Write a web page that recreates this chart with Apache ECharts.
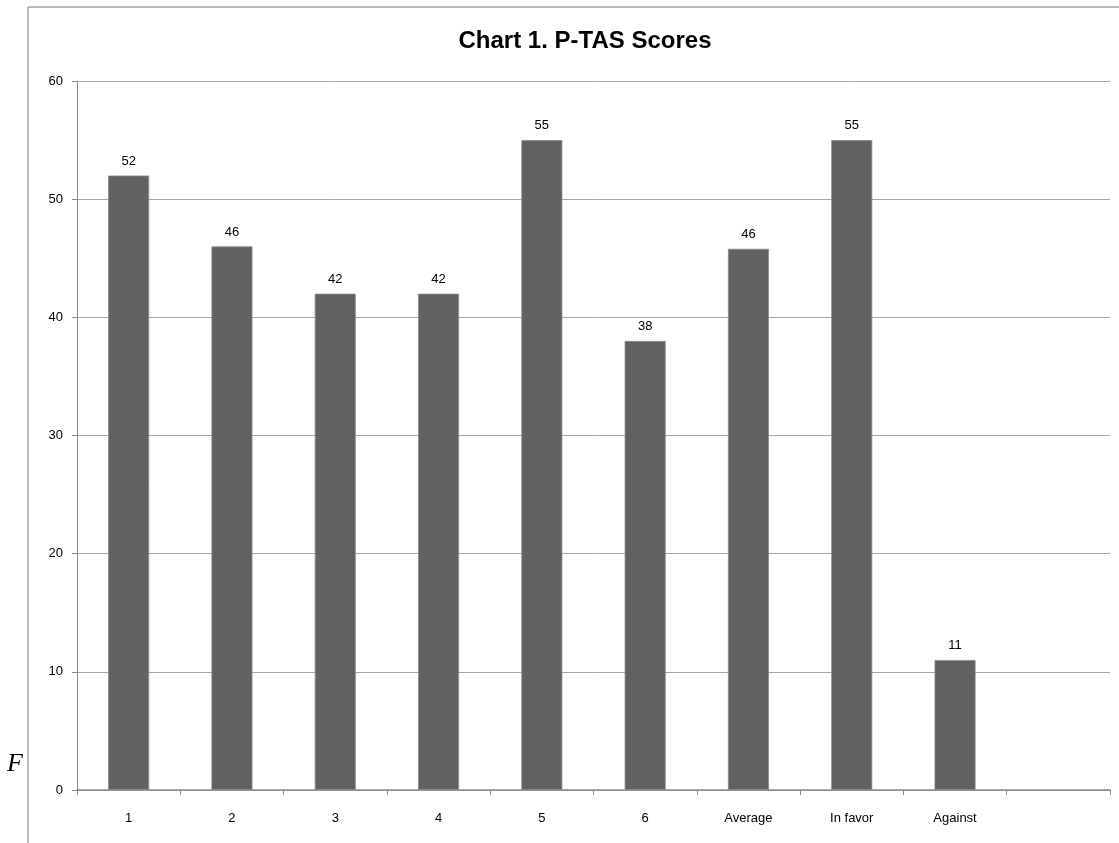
<!DOCTYPE html>
<html>
<head>
<meta charset="utf-8">
<script src="https://cdn.jsdelivr.net/npm/echarts@6/dist/echarts.min.js"></script>
<style>
html,body{margin:0;padding:0;background:#fff;}
#chart{width:1119px;height:843px;}
</style>
</head>
<body>
<div id="chart"></div>
<script>
const categories = ['1', '2', '3', '4', '5', '6', 'Average', 'In favor', 'Against', ''];
const scores = [52, 46, 42, 42, 55, 38, 45.8, 55, 11, null];
const yTicks = { min: 0, max: 60, interval: 10 };
const titleText = 'Chart 1. P-TAS Scores';

const chart = echarts.init(document.getElementById('chart'), null, { renderer: 'canvas' });
const narrow = '"Liberation Sans Narrow", "Liberation Sans", Arial, sans-serif';
chart.setOption({
  animation: false,
  backgroundColor: '#ffffff',
  title: {
    text: titleText,
    left: 580,
    top: 24,
    textAlign: 'center',
    textStyle: { fontFamily: narrow, fontWeight: 'bold', fontSize: 24, color: '#000' }
  },
  grid: { left: 77, right: 9, top: 81, bottom: 53, containLabel: false },
  xAxis: {
    type: 'category',
    data: categories,
    boundaryGap: true,
    axisLine: { lineStyle: { color: '#8c8c8c', width: 1.5 } },
    axisTick: { show: true, length: 5, alignWithLabel: false, lineStyle: { color: '#8c8c8c' } },
    axisLabel: { fontFamily: narrow, fontSize: 13, color: '#000', margin: 22, interval: 0 },
    splitLine: { show: false }
  },
  yAxis: {
    type: 'value',
    min: yTicks.min,
    max: yTicks.max,
    interval: yTicks.interval,
    axisLine: { show: true, lineStyle: { color: '#8c8c8c', width: 1 } },
    axisTick: { show: true, length: 5, lineStyle: { color: '#8c8c8c' } },
    axisLabel: { fontFamily: '"Liberation Sans", Arial, sans-serif', fontSize: 13, color: '#000', margin: 14 },
    splitLine: { show: true, lineStyle: { color: '#a6a6a6', width: 1 } }
  },
  series: [{
    type: 'bar',
    data: scores,
    barWidth: 41,
    itemStyle: { color: '#616161', borderColor: '#8a8a8a', borderWidth: 0.8 },
    label: {
      show: true,
      position: 'top',
      distance: 8,
      fontFamily: '"Liberation Sans", Arial, sans-serif',
      fontSize: 13,
      color: '#000',
      formatter: p => p.value == null ? '' : Math.round(p.value)
    }
  }],
  graphic: [
    { type: 'line', shape: { x1: 28, y1: 7, x2: 28, y2: 843 }, style: { stroke: '#a6a6a6', lineWidth: 1.5 }, silent: true },
    { type: 'line', shape: { x1: 28, y1: 7, x2: 1119, y2: 7 }, style: { stroke: '#a6a6a6', lineWidth: 1.5 }, silent: true },
    { type: 'text', left: 7, top: 751, style: { text: 'F', font: 'italic 26px "Liberation Serif", "Times New Roman", serif', fill: '#000' }, silent: true }
  ]
});
</script>
</body>
</html>
